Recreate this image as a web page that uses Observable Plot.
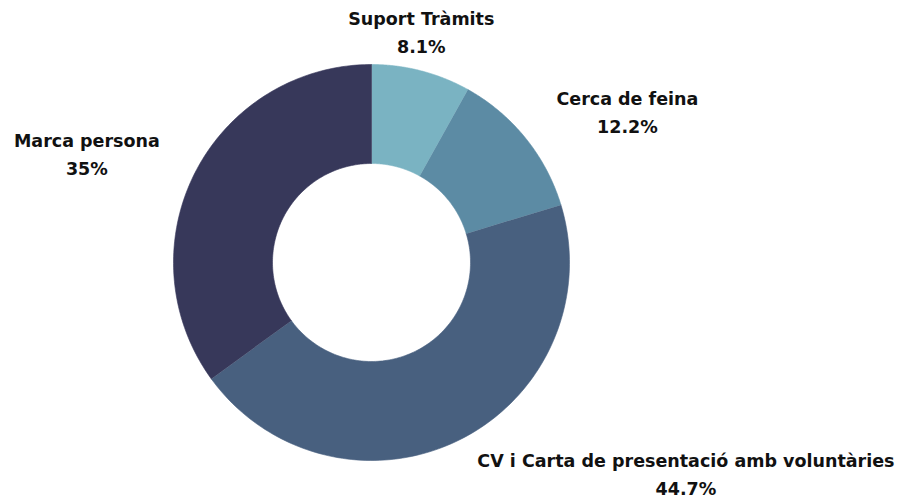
<!DOCTYPE html>
<html>
<head>
<meta charset="utf-8">
<script src="https://cdn.jsdelivr.net/npm/d3@7"></script>
<script src="https://cdn.jsdelivr.net/npm/@observablehq/plot@0.6"></script>
<style>
  html, body { margin: 0; padding: 0; background: #fff; }
  #chart { width: 913px; height: 501px; }
</style>
</head>
<body>
<div id="chart"></div>
<script>
// ---- data ----
const categories = ["Suport Tràmits", "Cerca de feina", "CV i Carta de presentació amb voluntàries", "Marca persona"];
const values = [8.1, 12.2, 44.7, 35];
const valueLabels = ["8.1%", "12.2%", "44.7%", "35%"];
const colors = ["#7ab3c2", "#5c8ba4", "#48607f", "#37385a"];

// ---- layout constants ----
const W = 913, H = 501;
const cx = 371, cy = 262, R = 198;    // pixel centre and outer radius
const innerRatio = 0.5;
const labelRatio = 1.2;
const FONT = "DejaVu Sans";
const FS = 17.5;

const pie = d3.pie().sort(null)(values);

// slice polygons in unit-radius coordinates (y up)
const slicePts = [];
pie.forEach((p, i) => {
  const n = 120;
  for (let k = 0; k <= n; k++) {
    const a = p.startAngle + (p.endAngle - p.startAngle) * k / n;
    slicePts.push({cat: categories[i], x: Math.sin(a), y: Math.cos(a)});
  }
  for (let k = n; k >= 0; k--) {
    const a = p.startAngle + (p.endAngle - p.startAngle) * k / n;
    slicePts.push({cat: categories[i], x: innerRatio * Math.sin(a), y: innerRatio * Math.cos(a)});
  }
});

// label positions
const ctx = document.createElement("canvas").getContext("2d");
ctx.font = `bold ${FS}px "${FONT}"`;
const labelRows = pie.map((p, i) => {
  const a = (p.startAngle + p.endAngle) / 2;
  const s = Math.sin(a);
  const text = categories[i] + "\n" + valueLabels[i];
  const w = Math.max(ctx.measureText(categories[i]).width, ctx.measureText(valueLabels[i]).width);
  let x = labelRatio * s;
  if (s > 0.3) x += (w / 2) / R;
  else if (s < -0.3) x -= (w / 2) / R;
  else x -= 10 / R;
  return {x, y: labelRatio * Math.cos(a), text};
});

const chart = Plot.plot({
  width: W,
  height: H,
  margin: 0,
  x: {domain: [-cx / R, (W - cx) / R], axis: null},
  y: {domain: [-(H - cy) / R, cy / R], axis: null},
  color: {domain: categories, range: colors},
  style: {fontFamily: FONT, background: "#fff"},
  marks: [
    Plot.line(slicePts, {x: "x", y: "y", z: "cat", fill: "cat", stroke: "cat", strokeWidth: 0.6, curve: "linear"}),
    Plot.text(labelRows, {x: "x", y: "y", text: "text", textAnchor: "middle", fontSize: FS, fontWeight: "bold", lineHeight: 1.6, dy: -3, fill: "#111"})
  ]
});
document.getElementById("chart").appendChild(chart);
</script>
</body>
</html>
